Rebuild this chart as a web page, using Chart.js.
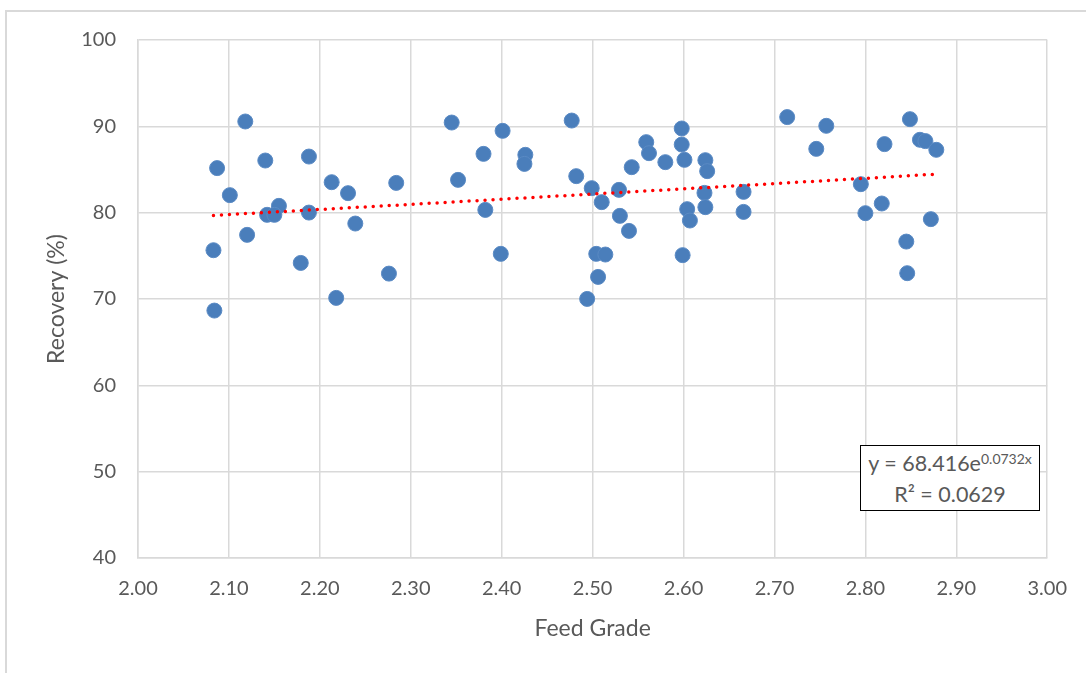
<!DOCTYPE html>
<html>
<head>
<meta charset="utf-8">
<script src="https://cdn.jsdelivr.net/npm/chart.js@4"></script>
<style>
    html, body { margin: 0; padding: 0; background: #fff; overflow: hidden; }
    #frame {
        position: absolute; left: 5px; top: 10px;
        width: 1200px; height: 800px;
        border: 2px solid #d9d9d9; box-sizing: border-box;
    }
    #wrap { position: absolute; left: 0; top: 0; width: 1086px; height: 673px; }
    #eqBox {
        position: absolute; left: 860px; top: 445px; width: 180px; height: 66px;
        box-sizing: border-box; border: 1.5px solid #000; background: #fff;
        font-family: Lato, sans-serif; font-size: 21.5px; color: #595959;
        text-align: center; line-height: 31px; padding-top: 2px;
    }
    #eqBox sup { font-size: 14px; vertical-align: 7px; line-height: 0; }
</style>
</head>
<body>
<div id="frame"></div>
<div id="wrap"><canvas id="recoveryChart"></canvas></div>
<div id="eqBox">y = 68.416e<sup>0.0732x</sup><br>R² = 0.0629</div>
<script>
// Feed grade vs recovery
const feedGrade = [
    2.118, 2.087, 2.140, 2.188, 2.101, 2.213, 2.231, 2.284, 2.155, 2.142,
    2.150, 2.188, 2.239, 2.120, 2.083, 2.179, 2.276, 2.218, 2.084,
    2.345, 2.401, 2.477, 2.380, 2.426, 2.425, 2.352, 2.482, 2.499, 2.529,
    2.510, 2.382, 2.530, 2.540, 2.399, 2.504, 2.514, 2.506, 2.494, 2.559,
    2.562, 2.543, 2.580,
    2.598, 2.598, 2.601, 2.624, 2.626, 2.623, 2.624, 2.604, 2.607, 2.599,
    2.666, 2.666, 2.714, 2.757, 2.746, 2.795, 2.800, 2.818, 2.821,
    2.849, 2.860, 2.866, 2.878, 2.872, 2.845, 2.846
];
const recovery = [
    90.56, 85.16, 86.04, 86.50, 82.03, 83.53, 82.26, 83.45, 80.79, 79.75,
    79.75, 80.01, 78.74, 77.43, 75.65, 74.18, 72.94, 70.13, 68.66,
    90.44, 89.48, 90.67, 86.81, 86.70, 85.65, 83.80, 84.23, 82.84, 82.64,
    81.22, 80.32, 79.63, 77.89, 75.23, 75.23, 75.15, 72.56, 70.01, 88.17,
    86.89, 85.27, 85.85,
    89.75, 87.89, 86.12, 86.08, 84.81, 82.29, 80.64, 80.41, 79.09, 75.08,
    82.41, 80.09, 91.07, 90.06, 87.39, 83.30, 79.94, 81.06, 87.94,
    90.83, 88.44, 88.29, 87.28, 79.25, 76.65, 72.99
];

// Exponential trendline as labelled on the chart: y = 68.416 e^(0.0732x)
const trendA = 68.416;
const trendB = 0.0732;
const trendX = [2.083, 2.18, 2.28, 2.38, 2.48, 2.58, 2.68, 2.78, 2.878];

const xTicks = [2.0, 3.0, 0.1];   // min, max, step
const yTicks = [40, 100, 10];

const textColor = '#595959';
const gridColor = '#d9d9d9';
const tickFont = { family: 'Lato, sans-serif', size: 20 };
const titleFont = { family: 'Lato, sans-serif', size: 23 };

document.addEventListener('DOMContentLoaded', function() {
    const ctx = document.getElementById('recoveryChart');

    const points = feedGrade.map((x, i) => ({ x: x, y: recovery[i] }));
    const trend = trendX.map(x => ({ x: x, y: trendA * Math.exp(trendB * x) }));

    new Chart(ctx, {
        type: 'scatter',
        data: {
            datasets: [{
                type: 'line',
                label: 'Trend',
                data: trend,
                order: 0,
                borderColor: '#ff0000',
                borderWidth: 3.5,
                borderDash: [0, 8],
                borderCapStyle: 'round',
                pointRadius: 0,
                fill: false,
                tension: 0
            }, {
                label: 'Recovery',
                data: points,
                order: 1,
                backgroundColor: '#4a7ebb',
                borderColor: '#5a8ac4',
                borderWidth: 1,
                pointRadius: 7.5
            }]
        },
        options: {
            responsive: true,
            maintainAspectRatio: false,
            animation: false,
            layout: { padding: { top: 40, right: 37, left: 0, bottom: 0 } },
            plugins: {
                legend: { display: false },
                title: { display: false },
                tooltip: { enabled: false }
            },
            scales: {
                x: {
                    type: 'linear',
                    min: xTicks[0],
                    max: xTicks[1],
                    afterFit: function(scale) { scale.height = 115; },
                    grid: { color: gridColor, lineWidth: 1.5, drawTicks: false },
                    border: { color: gridColor, width: 1.5 },
                    ticks: {
                        stepSize: xTicks[2],
                        color: textColor,
                        font: tickFont,
                        padding: 19,
                        maxRotation: 0,
                        callback: function(v) { return Number(v).toFixed(2); }
                    },
                    title: {
                        display: true,
                        text: 'Feed Grade',
                        color: textColor,
                        font: titleFont,
                        padding: { top: 0, bottom: 31 }
                    }
                },
                y: {
                    min: yTicks[0],
                    max: yTicks[1],
                    afterFit: function(scale) { scale.width = 138; },
                    grid: { color: gridColor, lineWidth: 1.5, drawTicks: false },
                    border: { color: gridColor, width: 1.5 },
                    ticks: {
                        stepSize: yTicks[2],
                        color: textColor,
                        font: tickFont,
                        padding: 22
                    },
                    title: {
                        display: true,
                        text: 'Recovery (%)',
                        color: textColor,
                        font: titleFont,
                        padding: { top: 43, bottom: 0 }
                    }
                }
            }
        }
    });
});
</script>
</body>
</html>
